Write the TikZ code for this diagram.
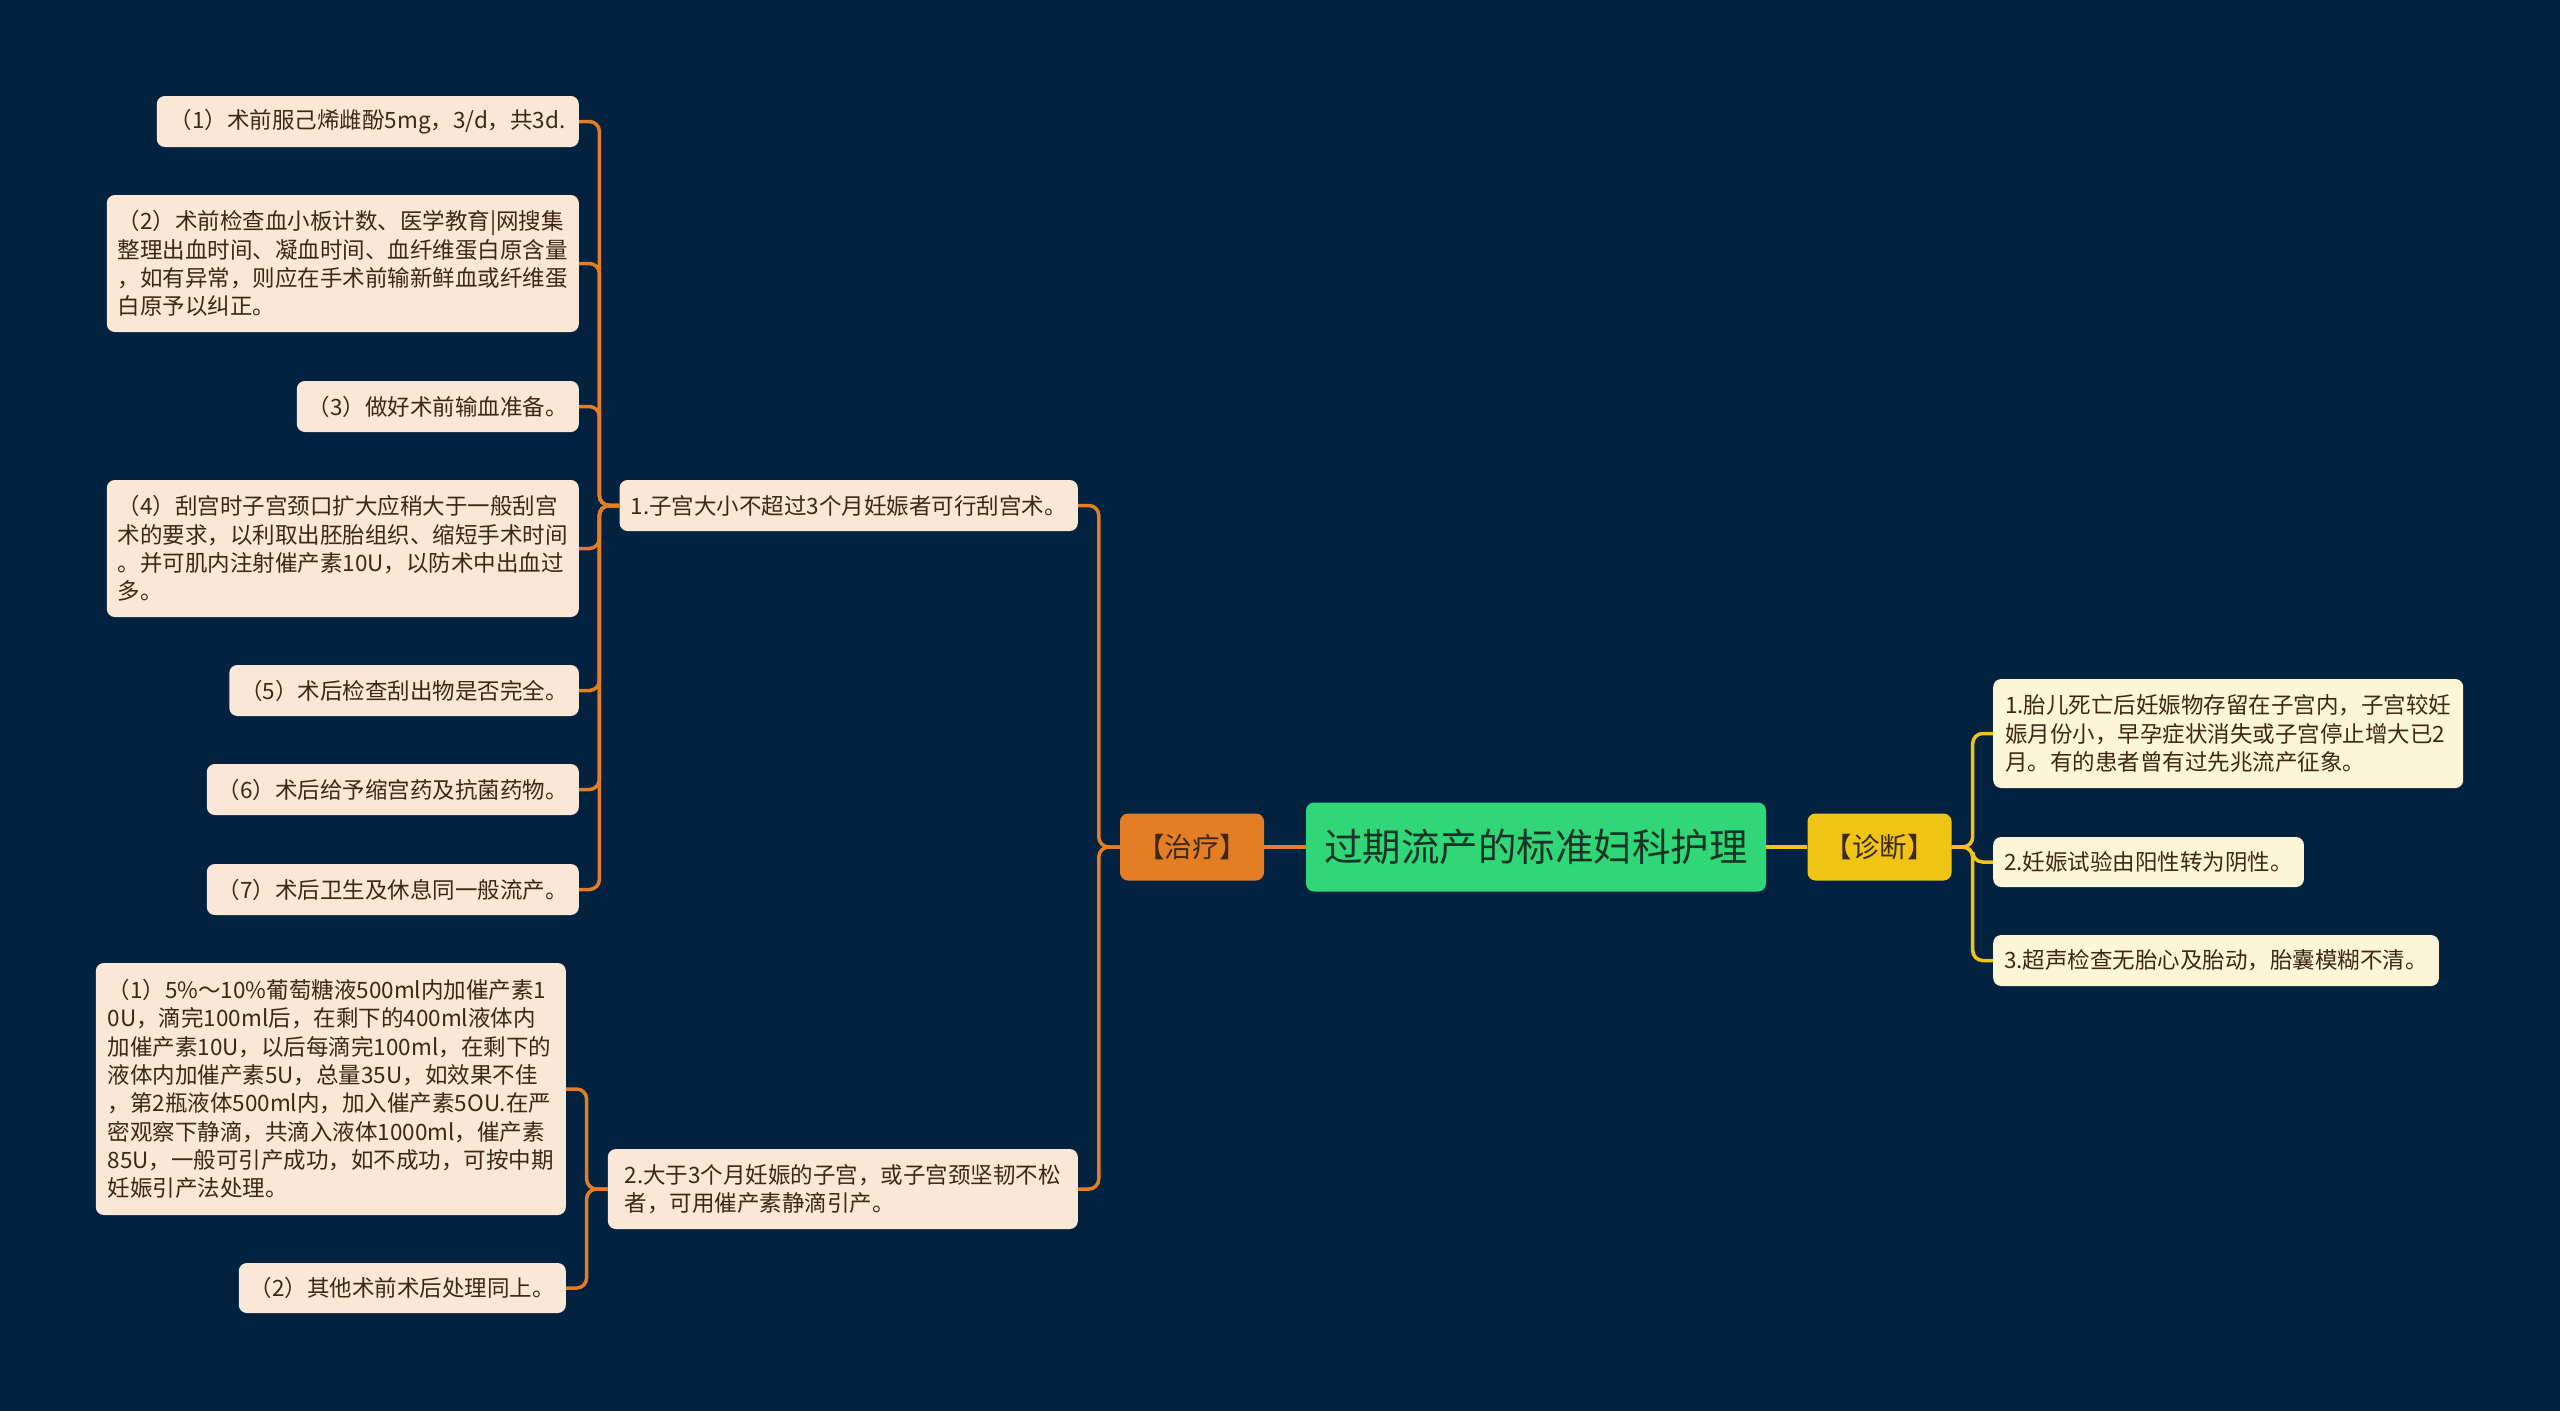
\documentclass[tikz,border=0pt]{standalone}
\usepackage{fontspec}
\newfontfamily\cjkfont{Noto Sans CJK SC}
\definecolor{bgnavy}{RGB}{2,34,64}
\definecolor{peach}{RGB}{251,231,213}
\definecolor{cream}{RGB}{253,246,214}
\definecolor{linkorange}{RGB}{228,126,36}
\definecolor{linkyellow}{RGB}{240,196,20}
\definecolor{rootgreen}{RGB}{48,214,120}
\definecolor{leaftext}{RGB}{62,40,20}
\definecolor{roottext}{RGB}{22,52,36}
\tikzset{
  mindmap/.style={
    x=1pt, y=-1pt,
    every node/.style={font=\cjkfont\fontsize{22.5}{28.3}\selectfont, rounded corners=8pt,
        inner xsep=11pt, inner ysep=4pt, align=left, text=leaftext},
    leaf/.style={fill=peach, minimum height=51pt},
    diag/.style={fill=cream, minimum height=51pt},
    topic/.style={
        font=\cjkfont\fontsize{27.5}{32}\selectfont,
        minimum height=67pt,
        minimum width=144pt,
        inner xsep=4pt,
    },
    root/.style={
        fill=rootgreen,
        text=roottext,
        font=\cjkfont\fontsize{38.5}{46}\selectfont,
        minimum height=89pt,
        minimum width=460pt,
    },
    orangelink/.style={draw=linkorange, line width=3.5pt, rounded corners=10pt},
    yellowlink/.style={draw=linkyellow, line width=3.5pt, rounded corners=10pt}
  }
}

\begin{document}
\begin{tikzpicture}[mindmap]
    \useasboundingbox (0,0) rectangle (2560,1411);
    \fill[bgnavy] (0,0) rectangle (2560,1411);

    \node[root] (M) at (1536,847) {过期流产的标准妇科护理};
    \node[topic, fill=linkorange] (T) at (1192,847) {【治疗】};
    \node[topic, fill=linkyellow] (Z) at (1879.5,847) {【诊断】};

    \node[leaf, anchor=east, minimum width=458pt] (L1) at (1078,505.5)
        {1.子宫大小不超过3个月妊娠者可行刮宫术。};
    \node[leaf, anchor=east, minimum width=470pt, minimum height=80pt] (L2) at (1078,1189)
        {2.大于3个月妊娠的子宫，或子宫颈坚韧不松\\者，可用催产素静滴引产。};

    \node[leaf, anchor=east, minimum width=422pt] (C1) at (579,121.5)
        {（1）术前服己烯雌酚5mg，3/d，共3d.};
    \node[leaf, anchor=east, minimum width=470pt, minimum height=137pt] (C2) at (579,263.5)
        {（2）术前检查血小板计数、医学教育|网搜集\\整理出血时间、凝血时间、血纤维蛋白原含量\\，如有异常，则应在手术前输新鲜血或纤维蛋\\白原予以纠正。};
    \node[leaf, anchor=east, minimum width=282pt] (C3) at (579,406.5)
        {（3）做好术前输血准备。};
    \node[leaf, anchor=east, minimum width=470pt, minimum height=137pt] (C4) at (579,548.5)
        {（4）刮宫时子宫颈口扩大应稍大于一般刮宫\\术的要求，以利取出胚胎组织、缩短手术时间\\。并可肌内注射催产素10U，以防术中出血过\\多。};
    \node[leaf, anchor=east, minimum width=349pt] (C5) at (579,690.5)
        {（5）术后检查刮出物是否完全。};
    \node[leaf, anchor=east, minimum width=371pt] (C6) at (579,789.5)
        {（6）术后给予缩宫药及抗菌药物。};
    \node[leaf, anchor=east, minimum width=371pt] (C7) at (579,889.5)
        {（7）术后卫生及休息同一般流产。};

    \node[leaf, anchor=east, minimum width=470pt, minimum height=252pt] (K1) at (566,1089)
        {（1）5\%～10\%葡萄糖液500ml内加催产素1\\0U，滴完100ml后，在剩下的400ml液体内\\加催产素10U，以后每滴完100ml，在剩下的\\液体内加催产素5U，总量35U，如效果不佳\\，第2瓶液体500ml内，加入催产素5OU.在严\\密观察下静滴，共滴入液体1000ml，催产素\\85U，一般可引产成功，如不成功，可按中期\\妊娠引产法处理。};
    \node[leaf, anchor=east, minimum width=326pt, minimum height=50pt] (K2) at (566,1288)
        {（2）其他术前术后处理同上。};

    \node[diag, anchor=west, minimum width=470pt, minimum height=109pt] (D1) at (1993,733.5)
        {1.胎儿死亡后妊娠物存留在子宫内，子宫较妊\\娠月份小，早孕症状消失或子宫停止增大已2\\月。有的患者曾有过先兆流产征象。};
    \node[diag, anchor=west, minimum width=309pt, minimum height=50pt] (D2) at (1993,862)
        {2.妊娠试验由阳性转为阴性。};
    \node[diag, anchor=west, minimum width=444pt] (D3) at (1993,960.5)
        {3.超声检查无胎心及胎动，胎囊模糊不清。};

    \draw[orangelink] (M.west) -- (T.east);
    \draw[yellowlink] (M.east) -- (Z.west);
    \foreach \b in {L1,L2}
        \draw[orangelink] (T.west) -- ++(-21,0) |- (\b.east);
    \foreach \c in {C1,C2,C3,C4,C5,C6,C7}
        \draw[orangelink] (L1.west) -- ++(-20,0) |- (\c.east);
    \foreach \k in {K1,K2}
        \draw[orangelink] (L2.west) -- ++(-21,0) |- (\k.east);
    \foreach \d in {D1,D2,D3}
        \draw[yellowlink] (Z.east) -- ++(21,0) |- (\d.west);
\end{tikzpicture}
\end{document}
